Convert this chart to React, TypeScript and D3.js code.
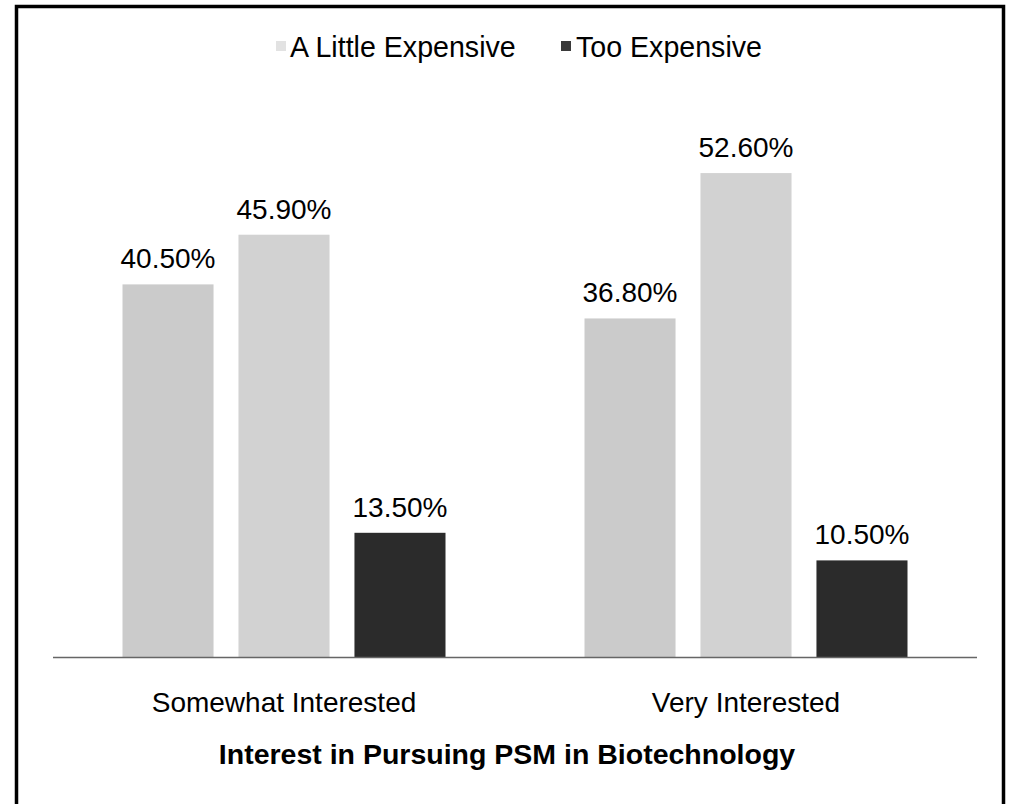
import React from "react";
import * as d3 from "d3";

const categories = ["Somewhat Interested", "Very Interested"];
const seriesKeys = ["Series 1", "A Little Expensive", "Too Expensive"];
const series1Values = [40.5, 36.8];
const littleExpensiveValues = [45.9, 52.6];
const tooExpensiveValues = [13.5, 10.5];
const legendItems = ["A Little Expensive", "Too Expensive"];
const xTitle = "Interest in Pursuing PSM in Biotechnology";

const W = 1011;
const H = 804;
const colors: Record<string, string> = {
  "Series 1": "#cbcbcb",
  "A Little Expensive": "#d2d2d2",
  "Too Expensive": "#2b2b2b",
};
const legendColors: Record<string, string> = {
  "A Little Expensive": "#e2e2e2",
  "Too Expensive": "#3a3a3a",
};

export default function App() {
  const valuesBySeries: Record<string, number[]> = {
    "Series 1": series1Values,
    "A Little Expensive": littleExpensiveValues,
    "Too Expensive": tooExpensiveValues,
  };
  const x0 = d3.scaleBand<string>().domain(categories).range([53, 977]).padding(0);
  const bw = x0.bandwidth();
  const x1 = d3
    .scaleBand<string>()
    .domain(seriesKeys)
    .range([69.5, bw - 69.5])
    .paddingInner(0.215);
  const y = d3.scaleLinear().domain([0, 60]).range([657, 105]);
  const font = "'Liberation Sans', Arial, sans-serif";

  const legendMarkX = [276, 561];
  const legendTextX = [290, 576];

  return (
    <svg
      width={W}
      height={H}
      style={{ position: "absolute", left: 0, top: 0, background: "#fff" }}
      fontFamily={font}
    >
      <rect x={0} y={0} width={W} height={H} fill="#fff" />
      <rect x={16.5} y={6.5} width={987} height={820} fill="none" stroke="#000" strokeWidth={3.5} />

      {/* legend */}
      {legendItems.map((name, i) => (
        <g key={name}>
          <rect x={legendMarkX[i]} y={41} width={10} height={10} fill={legendColors[name]} />
          <text x={legendTextX[i]} y={57} fontSize={28.6} fill="#000">
            {name}
          </text>
        </g>
      ))}

      {/* bars */}
      {categories.map((cat, ci) => (
        <g key={cat} transform={`translate(${x0(cat)},0)`}>
          {seriesKeys.map((s) => {
            const v = valuesBySeries[s][ci];
            const bx = x1(s)!;
            return (
              <g key={s}>
                <rect
                  x={bx}
                  y={y(v)}
                  width={x1.bandwidth()}
                  height={y(0) - y(v)}
                  fill={colors[s]}
                />
                <text
                  x={bx + x1.bandwidth() / 2}
                  y={y(v) - 16}
                  textAnchor="middle"
                  fontSize={28}
                  fill="#000"
                >
                  {v.toFixed(2)}%
                </text>
              </g>
            );
          })}
        </g>
      ))}

      {/* axis */}
      <line x1={53} x2={977} y1={657.5} y2={657.5} stroke="#666" strokeWidth={1.5} />
      {categories.map((cat) => (
        <text
          key={cat}
          x={x0(cat)! + bw / 2}
          y={712}
          textAnchor="middle"
          fontSize={28}
          fill="#000"
        >
          {cat}
        </text>
      ))}
      <text x={507} y={764} textAnchor="middle" fontSize={28.5} fontWeight="bold" fill="#000">
        {xTitle}
      </text>
    </svg>
  );
}
